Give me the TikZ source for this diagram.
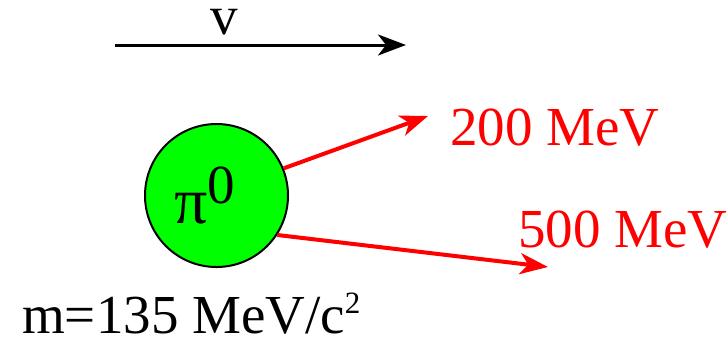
\documentclass[tikz,border=0pt]{standalone}
\usepackage{fontspec}
\setmainfont{Liberation Serif}
\usetikzlibrary{arrows.meta}

\definecolor{piongreen}{RGB}{0,255,0}

\tikzset{
	bigtext/.style={font=\fontsize{55}{60}\selectfont,inner sep=0pt},
	photon/.style={red,line width=4pt,-{Stealth[length=28pt,width=21pt,inset=8pt]}},
}

\begin{document}
\begin{tikzpicture}[x=1pt,y=-1pt]
		\useasboundingbox (0,0) rectangle (727,341);
		
		% velocity
		\coordinate (vstart) at (115,45);
		\coordinate (vend) at (406,45);
		\draw[line width=3pt,-{Stealth[length=28pt,width=21pt,inset=8pt]}] (vstart)--(vend);
		\node[bigtext,anchor=base west] (vlabel) at (210,34) {v};
		
		% the pion
		\node[circle,draw,line width=2pt,fill=piongreen,minimum size=143pt,inner sep=0pt] (pion) at (216.5,195.5) {};
		\node[bigtext,anchor=base west] (pilabel) at (174,223) {{\fontsize{66}{66}\selectfont π}\raisebox{20pt}{0}};
		\node[bigtext,anchor=base west] (mass) at (22,333) {m=135 MeV/c\raisebox{20pt}{\fontsize{31}{31}\selectfont 2}};
		
		% decay photons
		\coordinate (g1) at (428,116);
		\coordinate (g2) at (548,267);
		\draw[photon] (pion.22)--(g1);
		\draw[photon] (pion.-33)--(g2);
		
		\node[bigtext,red,anchor=base west] (e1) at (450,145) {200 MeV};
		\node[bigtext,red,anchor=base west] (e2) at (518,247) {500 MeV};
	\end{tikzpicture}
\end{document}
